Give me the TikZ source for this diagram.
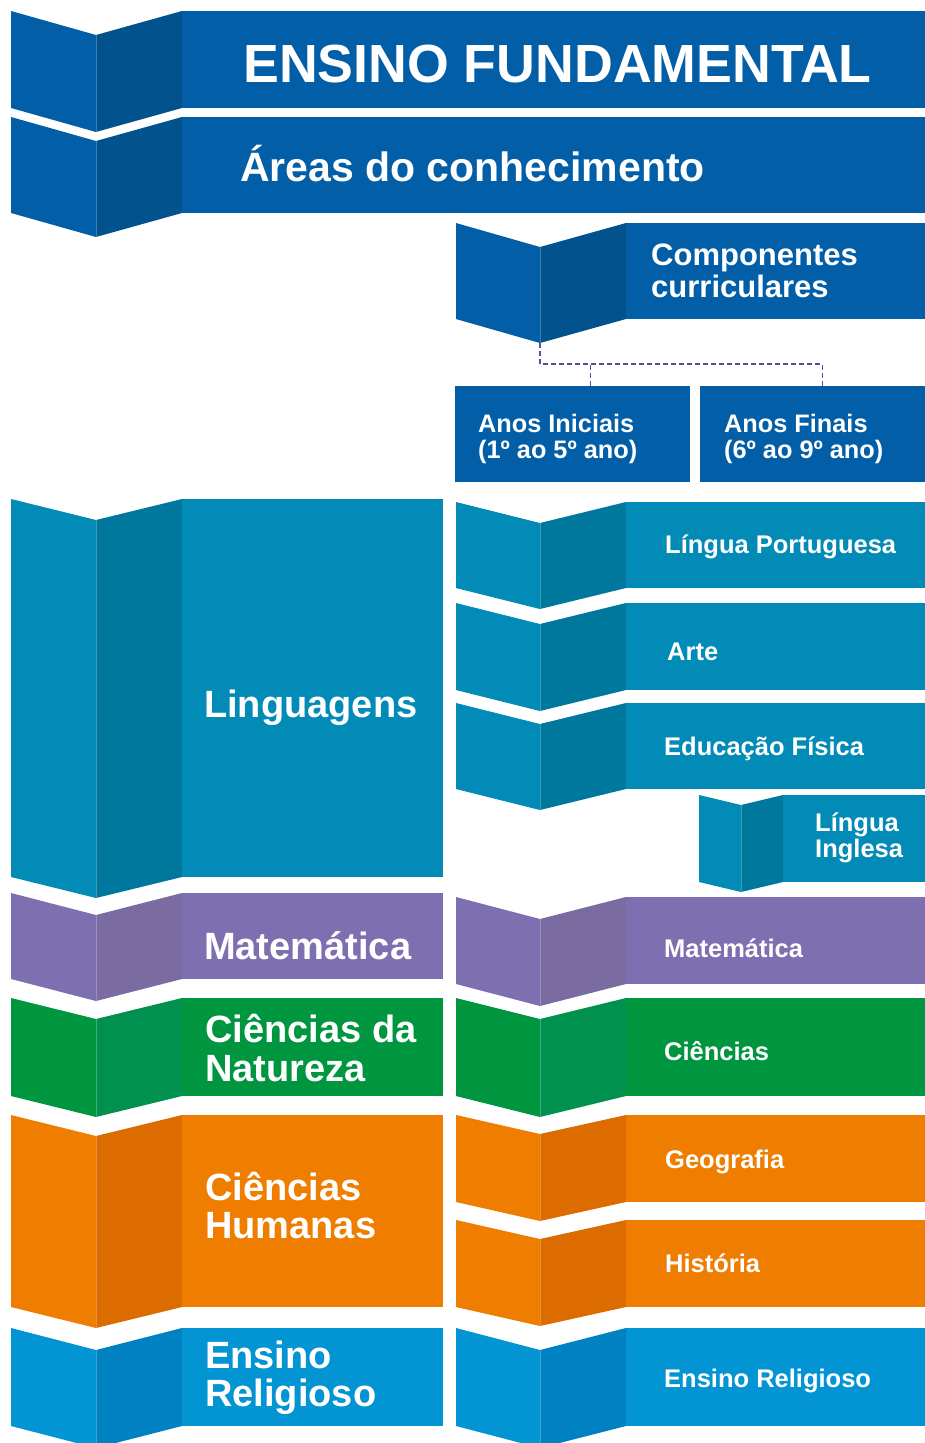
\documentclass[tikz,border=0pt]{standalone}
\usepackage{fontspec}
\setmainfont{Liberation Sans}
\definecolor{navyM}{HTML}{025EA7}
\definecolor{navyD}{HTML}{02528E}
\definecolor{tealM}{HTML}{038BB8}
\definecolor{tealD}{HTML}{00789D}
\definecolor{purM}{HTML}{7E6FB0}
\definecolor{purD}{HTML}{7A6BA0}
\definecolor{grnM}{HTML}{009640}
\definecolor{grnD}{HTML}{00914F}
\definecolor{orgM}{HTML}{EE7D00}
\definecolor{orgD}{HTML}{DC6B00}
\definecolor{skyM}{HTML}{0394D3}
\definecolor{skyD}{HTML}{0081C2}
\definecolor{dashcol}{HTML}{5A4A9C}
% #1 x0, #2 x fold, #3 x inner, #4 x right, #5 ytop, #6 ybot, #7 drop, #8 main colour, #9 dark colour
\newcommand\myribbon[9]{%
  \fill[#8] (#1,#5) -- (#2,{#5+#7}) -- (#2,{#6+#7}) -- (#1,#6) -- cycle;
  \fill[#9] (#2,{#5+#7}) -- (#3,#5) -- (#3,#6) -- (#2,{#6+#7}) -- cycle;
  \fill[#8] (#3,#5) rectangle (#4,#6);
  \draw[white,opacity=0.25,line width=0.8pt] (#2,{#5+#7}) -- (#2,{#6+#7});
}
\tikzset{
  lbl/.style={anchor=base west,inner sep=0pt,text=white,font=\bfseries,align=left},
  anos/.style={fill=navyM,minimum width=#1,minimum height=96pt,inner sep=0pt,anchor=north west},
  conn/.style={draw=dashcol,line width=1.1pt,dash pattern=on 5pt off 3pt}
}
\begin{document}
\begin{tikzpicture}[x=1pt,y=-1pt]
\useasboundingbox (0,0) rectangle (925,1443);
\clip (0,0) rectangle (925,1443);
\fill[white] (0,0) rectangle (925,1443);
% left column
\myribbon{11}{96}{182}{925}{11}{108}{24}{navyM}{navyD}
\myribbon{11}{96}{182}{925}{117}{213}{24}{navyM}{navyD}
\myribbon{11}{96}{182}{443}{499}{877}{21}{tealM}{tealD}
\myribbon{11}{96}{182}{443}{893}{979}{22}{purM}{purD}
\myribbon{11}{96}{182}{443}{998}{1096}{21}{grnM}{grnD}
\myribbon{11}{96}{182}{443}{1115}{1307}{21}{orgM}{orgD}
\myribbon{11}{96}{182}{443}{1328}{1426}{22}{skyM}{skyD}
% right column
\myribbon{456}{540}{626}{925}{223}{319}{24}{navyM}{navyD}
\myribbon{456}{540}{626}{925}{502}{588}{21}{tealM}{tealD}
\myribbon{456}{540}{626}{925}{603}{690}{21}{tealM}{tealD}
\myribbon{456}{540}{626}{925}{703}{789}{21}{tealM}{tealD}
\myribbon{699}{741}{783}{925}{795}{882}{10}{tealM}{tealD}
\myribbon{456}{540}{626}{925}{897}{984}{22}{purM}{purD}
\myribbon{456}{540}{626}{925}{998}{1096}{21}{grnM}{grnD}
\myribbon{456}{540}{626}{925}{1115}{1202}{19}{orgM}{orgD}
\myribbon{456}{540}{626}{925}{1220}{1307}{19}{orgM}{orgD}
\myribbon{456}{540}{626}{925}{1328}{1426}{22}{skyM}{skyD}
\coordinate (cfold) at (540,343);
% Anos boxes
\node[anos=235pt] (ai) at (455,386) {};
\node[anos=225pt] (af) at (700,386) {};
% connector
\draw[conn] (cfold) -- ++(0,21) -| ([xshift=9.5pt]af.north);
\draw[conn] ([xshift=17.5pt]ai.north) -- ++(0,-22);
% texts (multi-line nodes are anchored at the baseline of their last line)
\node[lbl,font=\bfseries\fontsize{53.7}{55}\selectfont] (tEF) at (243,82) {ENSINO FUNDAMENTAL};
\node[lbl,font=\bfseries\fontsize{41}{42}\selectfont] (tAreas) at (240,181) {Áreas do conhecimento};
\node[lbl,font=\bfseries\fontsize{31}{32}\selectfont] (tComp) at (651,297) {Componentes\\curriculares};
\node[lbl,font=\bfseries\fontsize{25.3}{26}\selectfont] (tAI) at (478,458) {Anos Iniciais\\(1º ao 5º ano)};
\node[lbl,font=\bfseries\fontsize{25.3}{26}\selectfont] (tAF) at (724,458) {Anos Finais\\(6º ao 9º ano)};
\node[lbl,font=\bfseries\fontsize{38}{38}\selectfont] (tLing) at (204,717) {Linguagens};
\node[lbl,font=\bfseries\fontsize{38}{38}\selectfont] (tMatL) at (204,959) {Matemática};
\node[lbl,font=\bfseries\fontsize{38}{38.5}\selectfont] (tCN) at (205,1081) {Ciências da\\Natureza};
\node[lbl,font=\bfseries\fontsize{38}{38}\selectfont] (tCH) at (205,1238) {Ciências\\Humanas};
\node[lbl,font=\bfseries\fontsize{38}{38}\selectfont] (tERL) at (205,1406) {Ensino\\Religioso};
\node[lbl,font=\bfseries\fontsize{25.5}{26}\selectfont] (tLP) at (665,553) {Língua Portuguesa};
\node[lbl,font=\bfseries\fontsize{25.5}{26}\selectfont] (tArte) at (667,660) {Arte};
\node[lbl,font=\bfseries\fontsize{25.5}{26}\selectfont] (tEdF) at (664,755) {Educação Física};
\node[lbl,font=\bfseries\fontsize{25.5}{25.5}\selectfont] (tLI) at (815,857) {Língua\\Inglesa};
\node[lbl,font=\bfseries\fontsize{25.5}{26}\selectfont] (tMatR) at (664,957) {Matemática};
\node[lbl,font=\bfseries\fontsize{25.5}{26}\selectfont] (tCie) at (664,1060) {Ciências};
\node[lbl,font=\bfseries\fontsize{25.5}{26}\selectfont] (tGeo) at (665,1168) {Geografia};
\node[lbl,font=\bfseries\fontsize{25.5}{26}\selectfont] (tHist) at (665,1272) {História};
\node[lbl,font=\bfseries\fontsize{25.5}{26}\selectfont] (tERR) at (664,1387) {Ensino Religioso};
\end{tikzpicture}
\end{document}
